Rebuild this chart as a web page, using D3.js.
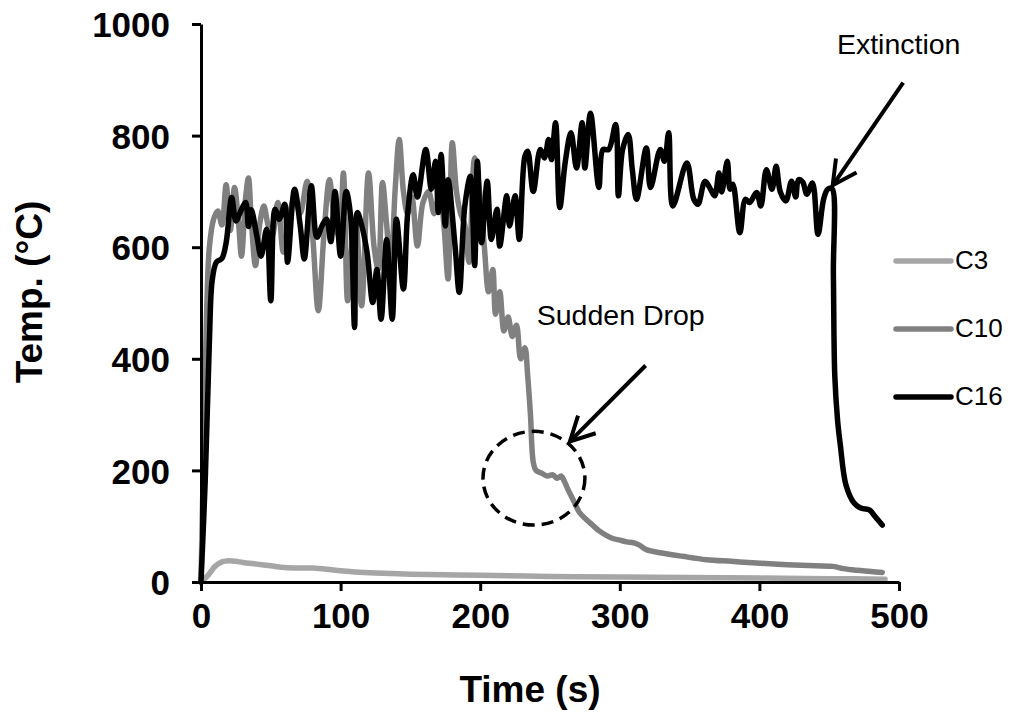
<!DOCTYPE html>
<html>
<head>
<meta charset="utf-8">
<script src="https://cdn.jsdelivr.net/npm/d3@7"></script>
<style>
    body { margin: 0; background: #fff; }
    .axis path, .axis line { stroke: #000; stroke-width: 3; }
    .axis text { font-family: 'Liberation Sans', Arial, sans-serif; font-weight: bold; font-size: 35px; fill: #000; }
    .axisTitle { font-family: 'Liberation Sans', Arial, sans-serif; font-weight: bold; font-size: 37px; }
    .chart-line { fill: none; stroke-width: 5.5; stroke-linejoin: round; stroke-linecap: round; }
    .note, .legend text { font-family: 'Liberation Sans', Arial, sans-serif; font-size: 28.5px; fill: #000; }
</style>
</head>
<body>
<svg id="chart"></svg>
<script>
// tick values
const xTicks = [0, 100, 200, 300, 400, 500];
const yTicks = [0, 200, 400, 600, 800, 1000];

// series names and colours
const seriesNames = ['C3', 'C10', 'C16'];
const seriesColors = ['#a6a6a6', '#808080', '#000000'];

// [time (s), temperature (°C)]
const c3Data = [
    [0, 0], [5, 12], [10, 28], [15, 36], [20, 38], [25, 37], [30, 35], [40, 32], [50, 29],
    [60, 26], [70, 25], [80, 25], [90, 23], [100, 20], [110, 18], [125, 16], [150, 14],
    [175, 13], [200, 12], [250, 10], [300, 9], [350, 8], [400, 7], [450, 6], [490, 5]
];

const c10Data = [
    [0, 0], [2, 250], [4, 480], [6, 600], [9, 650], [12, 665], [15, 640], [18, 712], [21, 630],
    [24, 707], [27, 640], [29, 584], [32, 690], [34, 724], [36, 650], [39, 567], [42, 640],
    [45, 674], [48, 640], [51, 620], [55, 680], [59, 591], [63, 650], [67, 690], [71, 660],
    [76, 718], [80, 620], [84, 486], [88, 620], [92, 721], [96, 640], [99, 620], [102, 733],
    [105, 504], [108, 600], [111, 640], [115, 495], [120, 733], [124, 600], [127, 560],
    [130, 716], [133, 640], [136, 560], [139, 700], [142, 793], [145, 700], [148, 660],
    [151, 690], [155, 602], [159, 680], [163, 700], [167, 660], [171, 700], [174, 640],
    [177, 543], [180, 787], [183, 700], [186, 660], [189, 640], [192, 573], [196, 760],
    [200, 690], [203, 600], [206, 520], [209, 560], [211, 480], [214, 520], [217, 450],
    [220, 475], [223, 440], [226, 460], [229, 400], [232, 420], [234, 370], [236, 300],
    [238, 215], [240, 200], [244, 195], [248, 190], [252, 192], [255, 186], [258, 190],
    [260, 182], [263, 165], [267, 145], [271, 125], [276, 112], [280, 103], [285, 92],
    [290, 84], [295, 78], [300, 75], [305, 72], [310, 70], [314, 66], [319, 58], [330, 52],
    [345, 46], [362, 40], [380, 37], [398, 34], [420, 31], [440, 29], [453, 28], [460, 24],
    [470, 21], [480, 19], [488, 17]
];

const c16Data = [
    [0, 0], [3, 180], [6, 430], [8, 540], [11, 573], [15, 580], [18, 608], [22, 689], [25, 647],
    [28, 662], [32, 680], [34, 637], [36, 667], [40, 620], [43, 584], [47, 632], [50, 504],
    [53, 668], [56, 650], [60, 677], [62, 573], [67, 704], [71, 640], [74, 579], [79, 710],
    [83, 618], [87, 640], [90, 650], [93, 610], [96, 700], [100, 584], [104, 700], [107, 660],
    [110, 456], [112, 662], [115, 640], [119, 590], [123, 501], [126, 560], [129, 471],
    [133, 614], [137, 471], [140, 650], [145, 525], [148, 659], [152, 730], [155, 690],
    [161, 775], [165, 704], [168, 754], [170, 662], [172, 766], [175, 638], [177, 721],
    [182, 602], [185, 519], [189, 674], [193, 727], [196, 567], [198, 754], [201, 608],
    [205, 718], [208, 614], [212, 668], [214, 602], [219, 692], [221, 638], [225, 692],
    [228, 614], [232, 763], [234, 772], [238, 700], [243, 775], [246, 760], [249, 793],
    [251, 757], [254, 823], [257, 671], [261, 754], [265, 805], [269, 742], [273, 823],
    [275, 742], [279, 840], [285, 707], [288, 775], [292, 775], [297, 820], [299, 692],
    [302, 775], [306, 802], [309, 738], [312, 686], [319, 778], [322, 707], [329, 775],
    [332, 754], [335, 805], [338, 674], [348, 751], [353, 686], [356, 677], [361, 718],
    [365, 704], [368, 692], [371, 733], [373, 699], [377, 754], [379, 704], [381, 713],
    [386, 626], [390, 686], [393, 680], [398, 698], [401, 674], [405, 739], [409, 704],
    [412, 745], [415, 699], [419, 683], [423, 718], [426, 690], [428, 721], [431, 717],
    [434, 695], [438, 715], [442, 623], [446, 686], [449, 704], [452, 705], [453, 550],
    [454, 370], [456, 290], [458, 245], [462, 174], [468, 141], [473, 132], [479, 129],
    [482, 120], [488, 102]
];

// annotations in data units
const extinctionArrow = [[503, 895], [452.5, 711]];
const dropArrow = [[318.5, 388], [264.3, 252]];
const dropCircle = { t: 238.5, temp: 186, rt: 36.5, rtemp: 84 };

class TempChart {
    constructor(_config) {
        this.config = {
            parentElement: _config.parentElement,
            containerWidth: 1013,
            containerHeight: 721,
            margin: { top: 24, right: 114, bottom: 139, left: 201 }
        };
        this.initVis();
    }

    initVis() {
        let vis = this;

        vis.width = vis.config.containerWidth - vis.config.margin.left - vis.config.margin.right;
        vis.height = vis.config.containerHeight - vis.config.margin.top - vis.config.margin.bottom;

        vis.xScale = d3.scaleLinear().domain([0, 500]).range([0, vis.width]);
        vis.yScale = d3.scaleLinear().domain([0, 1000]).range([vis.height, 0]);

        vis.xAxis = d3.axisBottom(vis.xScale)
            .tickValues(xTicks)
            .tickFormat(d3.format('d'))
            .tickSize(9)
            .tickSizeOuter(0)
            .tickPadding(12);

        vis.yAxis = d3.axisLeft(vis.yScale)
            .tickValues(yTicks)
            .tickFormat(d3.format('d'))
            .tickSize(9)
            .tickSizeOuter(0)
            .tickPadding(22);

        vis.svg = d3.select(vis.config.parentElement)
            .attr('width', vis.config.containerWidth)
            .attr('height', vis.config.containerHeight);

        vis.chart = vis.svg.append('g')
            .attr('transform', `translate(${vis.config.margin.left},${vis.config.margin.top})`);

        vis.linesG = vis.chart.append('g');

        vis.xAxisG = vis.chart.append('g')
            .attr('class', 'axis x-axis')
            .attr('transform', `translate(0,${vis.height})`);

        vis.yAxisG = vis.chart.append('g')
            .attr('class', 'axis y-axis');

        // axis titles
        vis.svg.append('text')
            .attr('class', 'axisTitle')
            .attr('x', 530)
            .attr('y', 702)
            .attr('text-anchor', 'middle')
            .text('Time (s)');

        vis.svg.append('text')
            .attr('class', 'axisTitle')
            .attr('transform', 'translate(42, 292) rotate(-90)')
            .attr('text-anchor', 'middle')
            .text('Temp. (°C)');

        vis.updateVis();
    }

    updateVis() {
        let vis = this;

        vis.series = [c3Data, c10Data, c16Data].map((d, i) => ({
            name: seriesNames[i],
            color: seriesColors[i],
            values: d
        }));

        vis.line = d3.line()
            .x(d => vis.xScale(d[0]))
            .y(d => vis.yScale(d[1]))
            .curve(d3.curveCatmullRom.alpha(0.5));

        vis.renderVis();
    }

    renderVis() {
        let vis = this;

        vis.linesG.selectAll('.chart-line')
            .data(vis.series)
            .join('path')
            .attr('class', 'chart-line')
            .attr('stroke', d => d.color)
            .attr('d', d => vis.line(d.values));

        vis.xAxisG.call(vis.xAxis);
        vis.yAxisG.call(vis.yAxis);
        vis.yAxisG.selectAll('text').attr('dy', '0.36em');
        vis.xAxisG.selectAll('text').attr('dy', '0.71em');

        // legend
        vis.legend = vis.svg.append('g')
            .attr('class', 'legend')
            .attr('transform', 'translate(896, 261)');

        vis.legend.selectAll('line')
            .data(vis.series)
            .join('line')
            .attr('x1', 0)
            .attr('x2', 55)
            .attr('y1', (d, i) => i * 68)
            .attr('y2', (d, i) => i * 68)
            .attr('stroke', d => d.color)
            .attr('stroke-width', 5.5)
            .attr('stroke-linecap', 'round');

        vis.legend.selectAll('text')
            .data(vis.series)
            .join('text')
            .attr('x', 59)
            .attr('y', (d, i) => i * 68 + 8)
            .style('font-size', '26px')
            .text(d => d.name);

        // annotations
        vis.drawArrow(extinctionArrow);
        vis.drawArrow(dropArrow);

        vis.chart.append('ellipse')
            .attr('cx', vis.xScale(dropCircle.t))
            .attr('cy', vis.yScale(dropCircle.temp))
            .attr('rx', vis.xScale(dropCircle.rt))
            .attr('ry', vis.height - vis.yScale(dropCircle.rtemp))
            .attr('fill', 'none')
            .attr('stroke', '#000')
            .attr('stroke-width', 3.5)
            .attr('stroke-dasharray', '12,7');

        vis.chart.append('text')
            .attr('class', 'note')
            .attr('x', vis.xScale(455.5))
            .attr('y', vis.yScale(947))
            .text('Extinction');

        vis.chart.append('text')
            .attr('class', 'note')
            .attr('x', vis.xScale(240.5))
            .attr('y', vis.yScale(461))
            .text('Sudden Drop');
    }

    drawArrow(pts) {
        let vis = this;
        const x0 = vis.xScale(pts[0][0]), y0 = vis.yScale(pts[0][1]);
        const x1 = vis.xScale(pts[1][0]), y1 = vis.yScale(pts[1][1]);
        const ang = Math.atan2(y0 - y1, x0 - x1);
        const head = 27, spread = 0.48;
        const g = vis.chart.append('g')
            .attr('stroke', '#000')
            .attr('stroke-width', 4)
            .attr('fill', 'none');
        g.append('line').attr('x1', x0).attr('y1', y0).attr('x2', x1).attr('y2', y1);
        g.append('path')
            .attr('d', `M${x1 + head * Math.cos(ang + spread)},${y1 + head * Math.sin(ang + spread)}` +
                `L${x1},${y1}L${x1 + head * Math.cos(ang - spread)},${y1 + head * Math.sin(ang - spread)}`);
    }
}

new TempChart({ parentElement: '#chart' });
</script>
</body>
</html>
